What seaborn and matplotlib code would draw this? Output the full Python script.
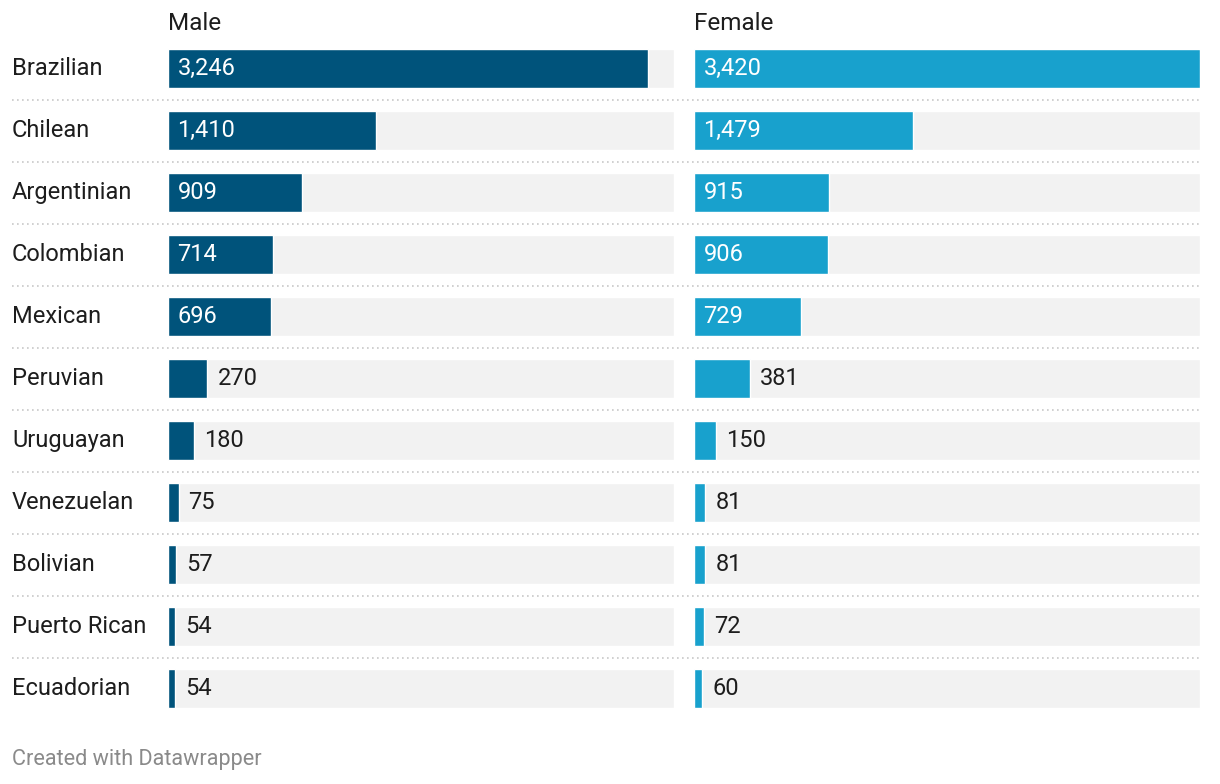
import pandas as pd
import matplotlib.pyplot as plt
import seaborn as sns
from matplotlib.transforms import blended_transform_factory

# Cores
MALE_COLOR = "#00537b"
FEMALE_COLOR = "#18a1cd"
BG_COLOR = "#f2f2f2"
TEXT_COLOR = "#1d1d1d"

# Dados
nationalities = ["Brazilian", "Chilean", "Argentinian", "Colombian", "Mexican", "Peruvian",
                 "Uruguayan", "Venezuelan", "Bolivian", "Puerto Rican", "Ecuadorian"]
male = [3246, 1410, 909, 714, 696, 270, 180, 75, 57, 54, 54]
female = [3420, 1479, 915, 906, 729, 381, 150, 81, 81, 72, 60]
panel_titles = ["Male", "Female"]

sns.set_theme(style="white")
plt.rcParams['font.family'] = ['Roboto', 'DejaVu Sans']

W, H = 1220, 784
fig = plt.figure(figsize=(W / 100, H / 100), dpi=100)

vmax = max(max(male), max(female))
n = len(nationalities)

def px_axes(x0, x1, y_top, y_bot):
    return fig.add_axes([x0 / W, 1 - y_bot / H, (x1 - x0) / W, (y_bot - y_top) / H])

panels = [
    (px_axes(167.5, 674, 37.5, 719.5), male, MALE_COLOR, panel_titles[0]),
    (px_axes(693.5, 1200, 37.5, 719.5), female, FEMALE_COLOR, panel_titles[1]),
]

for ax, values, color, title in panels:
    df = pd.DataFrame({"nat": nationalities, "value": values, "full": [vmax] * n})
    sns.barplot(data=df, x="full", y="nat", color=BG_COLOR, width=0.645,
                saturation=1, ax=ax, orient="h")
    sns.barplot(data=df, x="value", y="nat", color=color, width=0.645,
                saturation=1, ax=ax, orient="h")
    ax.set_xlim(0, vmax)
    ax.set_ylim(n - 0.5, -0.5)
    ax.axis("off")
    for i, v in enumerate(values):
        label = f"{v:,}"
        bar_px = v / vmax * 506
        if bar_px > 70:
            ax.annotate(label, (0, i), xytext=(7.2, 0), textcoords="offset points",
                        ha="left", va="center", color="white", fontsize=17)
        else:
            ax.annotate(label, (v, i), xytext=(7.2, 0), textcoords="offset points",
                        ha="left", va="center", color=TEXT_COLOR, fontsize=17)
    ax.text(0, 1 + 14 / 682, title, transform=ax.transAxes, ha="left", va="center",
            color=TEXT_COLOR, fontsize=17.5)

ax0 = panels[0][0]
trans = blended_transform_factory(fig.transFigure, ax0.transData)
for i, name in enumerate(nationalities):
    ax0.text(12 / W, i, name, transform=trans, ha="left", va="center",
             color=TEXT_COLOR, fontsize=17)
    if i < n - 1:
        ax0.plot([12 / W, 1200 / W], [i + 0.5, i + 0.5], transform=trans, clip_on=False,
                 color="#c8c8c8", linewidth=1.2, linestyle=(0, (1, 2)))

fig.text(12 / W, 1 - 760 / H, "Created with Datawrapper", ha="left", va="center",
         color="#8a8a8a", fontsize=15.6)

plt.savefig("out.png", dpi=100)
